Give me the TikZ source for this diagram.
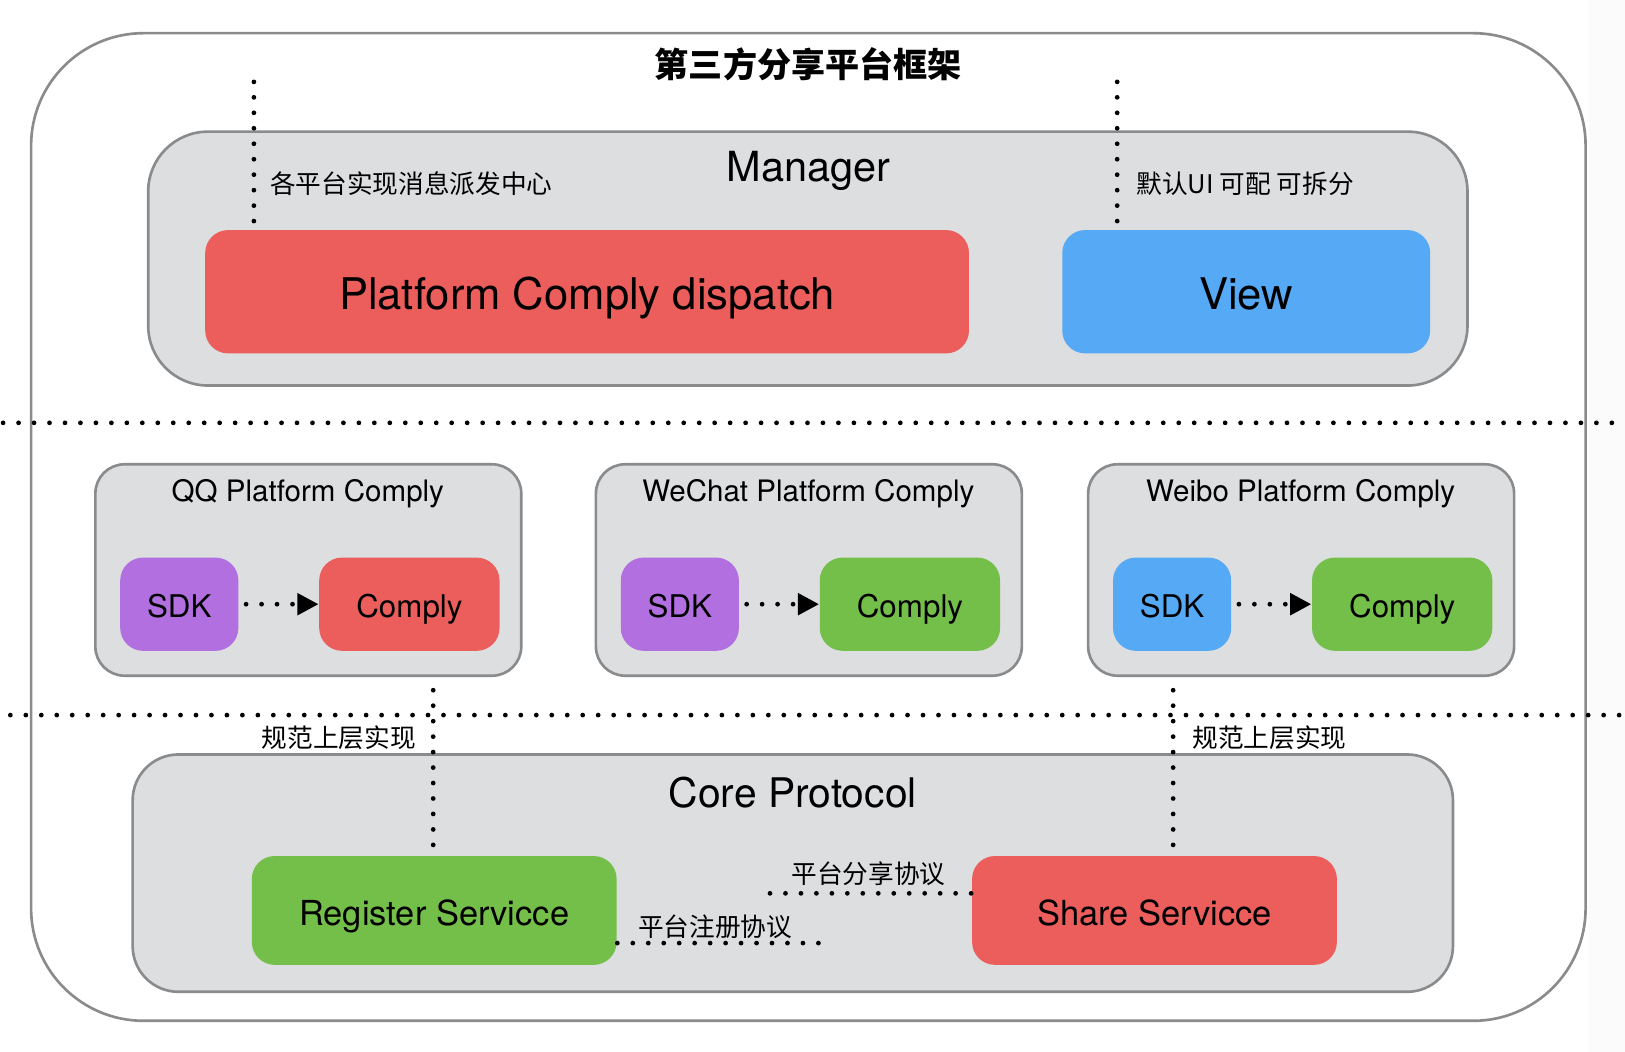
\documentclass[tikz,border=0pt]{standalone}
\usepackage{fontspec}
\setmainfont{TeX Gyre Heros}
\newfontfamily\cjk{Noto Sans CJK SC}
\usetikzlibrary{arrows.meta,fit,positioning}

\definecolor{boxgray}{HTML}{DDDEE0}
\definecolor{linegray}{HTML}{8A8B8D}
\definecolor{compred}{HTML}{EB5E5C}
\definecolor{compblue}{HTML}{55A9F5}
\definecolor{compgreen}{HTML}{74BF4A}
\definecolor{comppurple}{HTML}{B16FE0}

\tikzset{
	frame/.style={draw=linegray, line width=0.75pt, fill=boxgray, inner sep=0pt},
	block/.style={inner sep=0pt, rounded corners=6.5pt},
	blocktext/.style={font=\fontsize{#1}{14}\selectfont, text depth=0pt, yshift=-0.5pt},
	dotline/.style={line width=1.35pt, line cap=round, dash pattern=on 0pt off 4.4pt},
	note/.style={font=\cjk\fontsize{7.3}{8}\selectfont, inner sep=0pt},
}

\begin{document}
\begin{tikzpicture}[x=0.010364cm, y=-0.010364cm]
		\useasboundingbox (0,0) rectangle (1568,1015);
		\fill[gray!3] (1533,0) rectangle (1568,1015);
		% outer frame
		\node[draw=linegray, line width=0.75pt, inner sep=0pt, rounded corners=32pt,
			fit={(30,32) (1530,985)}] (frame) {};
		\node[font=\cjk\bfseries\fontsize{9.7}{11}\selectfont] (title) at (780,62) {第三方分享平台框架};
		
		% manager
		\node[frame, rounded corners=17pt, fit={(143,127) (1416,372)}] (manager) {};
		\node[font=\fontsize{11.8}{14}\selectfont] (managertitle) at (780,165) {Manager};
		\node[block, fill=compred, fit={(198,222) (935,341)},
			label={[blocktext=12.4]center:Platform Comply dispatch}] (dispatch) {};
		\node[block, fill=compblue, fit={(1025,222) (1380,341)},
			label={[blocktext=12.4]center:View}] (view) {};
		\coordinate (dispatchtop) at (245,79);
		\coordinate (viewtop) at (1078,79);
		\draw[dotline] (dispatchtop) -- ([yshift=2pt]dispatchtop |- dispatch.north);
		\draw[dotline] (viewtop) -- ([yshift=2pt]viewtop |- view.north);
		\node[note, anchor=west] (dispatchnote) at (260,177) {各平台实现消息派发中心};
		\node[note, anchor=west] (viewnote) at (1096,177) {默认UI 可配 可拆分};
		
		% separators
		\coordinate (sepAl) at (3,408);
		\coordinate (sepAr) at (1568,408);
		\coordinate (sepBl) at (10,690);
		\coordinate (sepBr) at (1568,690);
		\draw[dotline] (sepAl) -- (sepAr);
		\draw[dotline] (sepBl) -- (sepBr);
		
		% platforms
		\foreach \x/\name/\title/\sdkcol/\compcol in {92/qq/QQ Platform Comply/comppurple/compred,
			575/wechat/WeChat Platform Comply/comppurple/compgreen,
			1050/weibo/Weibo Platform Comply/compblue/compgreen}
		{
			\node[frame, rounded corners=8.3pt, fit={(\x,448) (\x+411,652)}] (\name) {};
			\node[font=\fontsize{8.4}{10}\selectfont] (\name title) at (\x+205,476) {\title};
			\node[block, fill=\sdkcol, fit={(\x+24,538) (\x+138,628)},
				label={[blocktext=8.9]center:SDK}] (\name sdk) {};
			\node[block, fill=\compcol, fit={(\x+216,538) (\x+390,628)},
				label={[blocktext=8.9]center:Comply}] (\name comply) {};
			\draw[dotline, shorten <=2pt, -{Triangle[length=6pt,width=6pt]}] (\name sdk) -- (\name comply);
		}
		
		% core protocol
		\node[frame, rounded corners=13pt, fit={(128,728) (1402,957)}] (core) {};
		\node[font=\fontsize{11.6}{14}\selectfont] (coretitle) at (765,765) {Core Protocol};
		\node[block, fill=compgreen, fit={(243,826) (595,931)},
			label={[blocktext=9.8]center:Register Servicce}] (register) {};
		\node[block, fill=compred, fit={(938,826) (1290,931)},
			label={[blocktext=9.8]center:Share Servicce}] (share) {};
		\coordinate (registerup) at (418,666);
		\coordinate (shareup) at (1132,666);
		\draw[dotline] (registerup) -- ([yshift=2pt]registerup |- register.north);
		\draw[dotline] (shareup) -- ([yshift=2pt]shareup |- share.north);
		\node[note, anchor=east] (registernote) at (402,712) {规范上层实现};
		\node[note, anchor=west] (sharenote) at (1150,712) {规范上层实现};
		\coordinate (shareproto) at (743,862);
		\coordinate (registerproto) at (795,910);
		\draw[dotline] (shareproto) -- (shareproto -| share.west);
		\draw[dotline] (registerproto -| register.east) -- (registerproto);
		\node[note] (sharelabel) at (838,843) {平台分享协议};
		\node[note] (registerlabel) at (690,894) {平台注册协议};
	\end{tikzpicture}
\end{document}
